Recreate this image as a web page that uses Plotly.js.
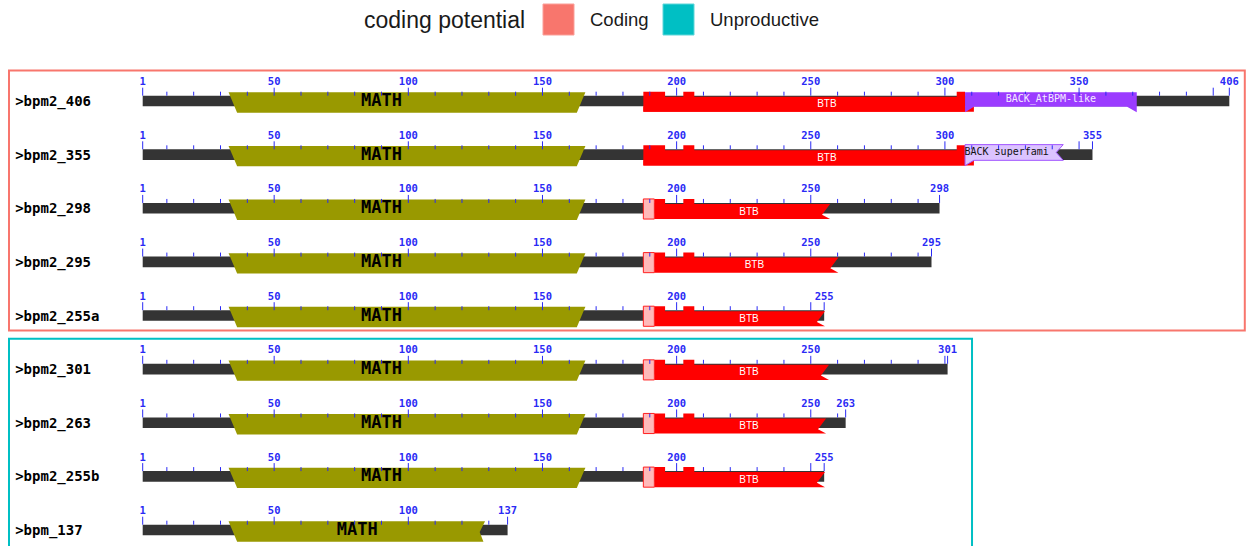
<!DOCTYPE html>
<html>
<head>
<meta charset="utf-8">
<script src="https://cdn.plot.ly/plotly-3.0.1.min.js"></script>
<style>html,body{margin:0;padding:0;background:#fff;}#chart{width:1246px;height:546px;}</style>
</head>
<body>
<div id="chart"></div>
<script>
// ---------------- DATA ----------------
const seqNames = ['>bpm2_406', '>bpm2_355', '>bpm2_298', '>bpm2_295', '>bpm2_255a', '>bpm2_301', '>bpm2_263', '>bpm2_255b', '>bpm_137'];
const seqLengths = [406, 355, 298, 295, 255, 301, 263, 255, 137];
const codingPotential = ['Coding', 'Coding', 'Coding', 'Coding', 'Coding', 'Unproductive', 'Unproductive', 'Unproductive', 'Unproductive'];
const potentialLevels = ['Coding', 'Unproductive'];

const mathStart = [33, 33, 33, 33, 33, 33, 33, 33, 33];
const mathEnd = [166, 166, 166, 166, 166, 166, 166, 166, 128.6];
const mathComplete = [true, true, true, true, true, true, true, true, false];
const mathLabelPos = [90, 90, 90, 90, 90, 90, 90, 90, 81];

const btbStart = [187.6, 187.6, 187.6, 187.6, 187.6, 187.6, 187.6, 187.6, null];
const btbEnd = [307.5, 307.5, 257.2, 260.3, 255.3, 256.8, 255.7, 255.3, null];
const btbComplete = [true, true, false, false, false, false, false, false, null];
const btbTruncatedTo = 191.7;           // end of the pale (partial-hit) block
const btbLabelPos = [256, 256, 227, 229, 227, 227, 227, 227, null];
const btbSiteStart = [187.6, 202.5];
const btbSiteEnd = [195.7, 206.6];
const btbStepStart = 304.4;             // raised tail of complete BTB

const backName = ['BACK_AtBPM-like', 'BACK superfami', null, null, null, null, null, null, null];
const backStart = [307.5, 307.5, null, null, null, null, null, null, null];
const backEnd = [371.5, 344.1, null, null, null, null, null, null, null];
const backKind = ['specific', 'superfamily', null, null, null, null, null, null, null];

// ---------------- STYLE / SCALE ----------------
const PXX = 2.683, PXY = 53.625;        // pixels per residue, pixels per row
const XMIN = 1 - 142.7 / PXX, XMAX = XMIN + 1246 / PXX;
const YTOP = -101 / PXY, YBOT = YTOP + 546 / PXY;
const dy = p => p / PXY, dx = p => p / PXX;
const potColors = {Coding: '#F8766D', Unproductive: '#00BFC4'};
const BLUE = '#2a2af5';
const MONO = 'DejaVu Sans Mono, monospace';

function path(pts) { return 'M' + pts.map(p => p[0].toFixed(3) + ',' + p[1].toFixed(4)).join('L') + 'Z'; }

const shapes = [];
const tickX = [], tickY = [];
const tlX = [], tlY = [], tlT = [];
const txt = {nameX: [], nameY: [], nameT: [], mX: [], mY: [], mT: [], bX: [], bY: [], bT: [], kX: [], kY: [], kT: [], kC: [], kA: []};

seqNames.forEach((nm, i) => {
  const c = i, L = seqLengths[i];
  // backbone
  shapes.push({type: 'rect', xref: 'x', yref: 'y', x0: 1, x1: L, y0: c - dy(5.3), y1: c + dy(5.3), fillcolor: '#343434', line: {width: 0}, layer: 'below'});
  // MATH
  {
    const s = mathStart[i], e = mathEnd[i], sl = 3.2;
    const top = c - dy(8.7), bot = c + dy(11.7);
    let pts;
    if (mathComplete[i]) pts = [[s, top], [e, top], [e - sl, bot], [s + sl, bot]];
    else pts = [[s, top], [e, top], [e - 2, c + dy(2)], [e - 0.6, bot], [s + sl, bot]];
    shapes.push({type: 'path', xref: 'x', yref: 'y', path: path(pts), fillcolor: '#999900', line: {width: 0}, layer: 'below'});
    txt.mX.push(mathLabelPos[i]); txt.mY.push(c + dy(0.8)); txt.mT.push('MATH');
  }
  // BTB
  if (btbStart[i] !== null) {
    const s = btbStart[i], e = btbEnd[i];
    const hi = c - dy(9.3), lo = c - dy(4.3), bot = c + dy(10.8);
    const [a1, a2] = [btbSiteStart[0], btbSiteStart[1]], [b1, b2] = [btbSiteEnd[0], btbSiteEnd[1]];
    if (btbComplete[i]) {
      shapes.push({type: 'rect', xref: 'x', yref: 'y', x0: s, x1: e + 3.3, y0: c + dy(5.5), y1: bot, fillcolor: '#ff0000', line: {width: 0}, layer: 'below'});
      const pts = [[a1, hi], [b1, hi], [b1, lo], [a2, lo], [a2, hi], [b2, hi], [b2, lo], [btbStepStart, lo], [btbStepStart, hi], [e, hi], [e, bot], [s, bot]];
      shapes.push({type: 'path', xref: 'x', yref: 'y', path: path(pts), fillcolor: '#ff0000', line: {width: 0}, layer: 'below'});
    } else {
      const t = btbTruncatedTo;
      const pts = [[t, hi], [b1, hi], [b1, lo], [a2, lo], [a2, hi], [b2, hi], [b2, lo], [e, lo], [e - 3, c + dy(6.5)], [e, bot], [t, bot]];
      shapes.push({type: 'path', xref: 'x', yref: 'y', path: path(pts), fillcolor: '#ff0000', line: {width: 0}, layer: 'below'});
      shapes.push({type: 'rect', xref: 'x', yref: 'y', x0: s, x1: t, y0: hi, y1: bot, fillcolor: '#ffb9b9', line: {width: 1, color: '#ff2020'}, layer: 'below'});
    }
    txt.bX.push(btbLabelPos[i]); txt.bY.push(c + dy(3.8)); txt.bT.push('BTB');
  }
  // BACK
  if (backStart[i] !== null) {
    const s = backStart[i], e = backEnd[i];
    if (backKind[i] === 'specific') {
      const top = c - dy(8.7), mid = c + dy(5.7), bot = c + dy(11.3);
      const pts = [[s, top], [e, top], [e, bot], [e - 3.6, mid], [s + 3.3, mid], [s, bot]];
      shapes.push({type: 'path', xref: 'x', yref: 'y', path: path(pts), fillcolor: '#9b3cff', line: {width: 0}, layer: 'below'});
      txt.kX.push((s + e) / 2); txt.kY.push(c - dy(2)); txt.kT.push(backName[i]); txt.kC.push('#f4eaff'); txt.kA.push('center');
    } else {
      const top = c - dy(10), mid = c + dy(5.7), bot = c + dy(11);
      const pts = [[s, top], [e, top], [e - 2.6, c - dy(2.2)], [e, mid], [s + 3.3, mid], [s, bot]];
      shapes.push({type: 'path', xref: 'x', yref: 'y', path: path(pts), fillcolor: '#dcc3ff', line: {width: 1, color: '#a256ff'}, layer: 'below'});
      txt.kX.push(s - 0.2); txt.kY.push(c - dy(1.8)); txt.kT.push(backName[i]); txt.kC.push('#111'); txt.kA.push('left');
    }
  }
  // ruler ticks
  const ticks = [1];
  for (let t = 10; t < L; t += 10) ticks.push(t);
  ticks.push(L);
  ticks.forEach(t => {
    const major = (t === 1 || t === L || t % 50 === 0);
    tickX.push(t, t, null);
    tickY.push(c - dy(major ? 13.3 : 9.3), c - dy(5.3), null);
    if (major && (t === 1 || t === L || L - t >= 10)) { tlX.push(t); tlY.push(c - dy(18.5)); tlT.push(String(t)); }
  });
  txt.nameX.push(1 - 127.5 / PXX); txt.nameY.push(c + dy(1.5)); txt.nameT.push(nm);
});

// group boxes by coding potential
potentialLevels.forEach(lv => {
  const rows = codingPotential.map((p, i) => p === lv ? i : -1).filter(i => i >= 0);
  const first = Math.min(...rows), last = Math.max(...rows);
  const maxLen = Math.max(...rows.map(i => seqLengths[i]));
  const bottomPad = lv === potentialLevels[potentialLevels.length - 1] ? 25 : 15;
  shapes.push({type: 'rect', xref: 'x', yref: 'y', x0: 1 - 133.7 / PXX, x1: Math.min(maxLen + 9.1, XMAX - dx(1.2)),
    y0: first - dy(30.5), y1: last + dy(bottomPad), fillcolor: 'rgba(0,0,0,0)', line: {width: 2, color: potColors[lv]}, layer: 'below'});
});

// legend (drawn in paper space)
const W = 1246, H = 546;
const annotations = [];
annotations.push({xref: 'paper', yref: 'paper', x: 362 / W, y: 1 - 20.5 / H, xanchor: 'left', yanchor: 'middle', showarrow: false,
  text: 'coding potential', font: {family: 'Liberation Sans, Arial, sans-serif', size: 23, color: '#1a1a1a'}});
const legX = [543, 663];
potentialLevels.forEach((lv, k) => {
  shapes.push({type: 'rect', xref: 'paper', yref: 'paper', x0: legX[k] / W, x1: (legX[k] + 31) / W, y0: 1 - 35 / H, y1: 1 - 4 / H,
    fillcolor: potColors[lv], line: {width: 1, color: lv === 'Coding' ? '#fb9f99' : '#5fd6d9'}});
  annotations.push({xref: 'paper', yref: 'paper', x: (legX[k] + 45) / W, y: 1 - 20 / H, xanchor: 'left', yanchor: 'middle', showarrow: false,
    text: lv, font: {family: 'Liberation Sans, Arial, sans-serif', size: 18.5, color: '#1a1a1a'}});
});

const traces = [
  {type: 'scatter', mode: 'lines', x: tickX, y: tickY, line: {color: BLUE, width: 1}, hoverinfo: 'skip'},
  {type: 'scatter', mode: 'text', x: tlX, y: tlY, text: tlT, textposition: 'middle center', textfont: {family: MONO, size: 10.5, color: BLUE, weight: 'bold'}, hoverinfo: 'skip'},
  {type: 'scatter', mode: 'text', x: txt.nameX, y: txt.nameY, text: txt.nameT, textposition: 'middle right', textfont: {family: MONO, size: 14, color: '#000', weight: 'bold'}, hoverinfo: 'skip'},
  {type: 'scatter', mode: 'text', x: txt.mX, y: txt.mY, text: txt.mT, textposition: 'middle center', textfont: {family: MONO, size: 17, color: '#000', weight: 'bold'}, hoverinfo: 'skip'},
  {type: 'scatter', mode: 'text', x: txt.bX, y: txt.bY, text: txt.bT, textposition: 'middle center', textfont: {family: 'Liberation Sans, Arial, sans-serif', size: 10, color: '#ffffff'}, hoverinfo: 'skip'},
  {type: 'scatter', mode: 'text', x: txt.kX, y: txt.kY, text: txt.kT, textposition: txt.kA.map(a => a === 'left' ? 'middle right' : 'middle center'), textfont: {family: MONO, size: 10, color: txt.kC}, hoverinfo: 'skip'}
];

const layout = {
  width: 1246, height: 546,
  margin: {l: 0, r: 0, t: 0, b: 0, pad: 0},
  paper_bgcolor: '#ffffff', plot_bgcolor: '#ffffff',
  showlegend: false,
  xaxis: {range: [XMIN, XMAX], visible: false, fixedrange: true},
  yaxis: {range: [YBOT, YTOP], visible: false, fixedrange: true},
  shapes: shapes,
  annotations: annotations
};
Plotly.newPlot('chart', traces, layout, {staticPlot: true, displayModeBar: false});
</script>
</body>
</html>
